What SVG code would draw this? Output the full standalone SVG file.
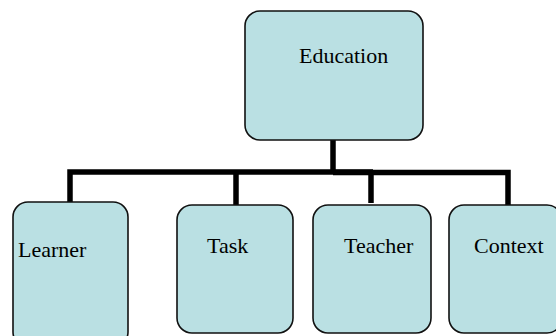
<svg xmlns="http://www.w3.org/2000/svg" width="556" height="336" viewBox="0 0 556 336">
<style>
.box{fill:#bae0e3;stroke:#111;stroke-width:1.6}
.lbl{font-family:'Liberation Serif','Times New Roman',serif;font-size:22px;fill:#000}
.conn{fill:none;stroke:#000;stroke-width:5.5;stroke-linejoin:miter;stroke-linecap:butt}
</style>
<rect width="556" height="336" fill="#fff"/>
<g id="connectors">
<polyline class="conn" points="70,202 70,172 373,172"/>
<polyline class="conn" stroke-width="5" points="333,140 333,172"/>
<polyline class="conn" stroke-width="4.5" points="333,172.5 508,172.5 508,205"/>
<polyline class="conn" points="236,172 236,205"/>
<polyline class="conn" points="371,172 371,203"/>
</g>
<g id="education">
<rect class="box" x="245" y="11" width="178" height="129" rx="15"/>
<text class="lbl" x="299" y="63">Education</text>
</g>
<g id="learner">
<rect class="box" x="13" y="202" width="115" height="145" rx="15"/>
<text class="lbl" x="18" y="257">Learner</text>
</g>
<g id="task">
<rect class="box" x="177" y="205" width="116" height="128" rx="15"/>
<text class="lbl" x="207" y="253">Task</text>
</g>
<g id="teacher">
<rect class="box" x="313" y="205" width="118" height="128" rx="15"/>
<text class="lbl" x="344" y="253">Teacher</text>
</g>
<g id="context">
<rect class="box" x="449" y="205" width="113" height="128" rx="15"/>
<text class="lbl" x="474" y="253">Context</text>
</g>
</svg>
